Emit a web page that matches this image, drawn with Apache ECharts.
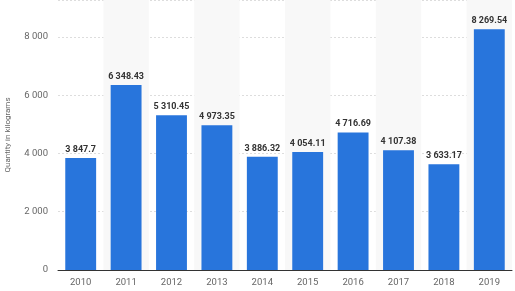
<!DOCTYPE html>
<html><head><meta charset="utf-8">
<script src="https://cdn.jsdelivr.net/npm/echarts@6/dist/echarts.min.js"></script>
<style>html,body{margin:0;padding:0;background:#fff}#c{width:515px;height:291px}</style>
</head><body><div id="c"></div>
<script>
var categories = ['2010','2011','2012','2013','2014','2015','2016','2017','2018','2019'];
var values = [3847.7, 6348.43, 5310.45, 4973.35, 3886.32, 4054.11, 4716.69, 4107.38, 3633.17, 8269.54];
var yTicks = [0, 2000, 4000, 6000, 8000];

function fmt(v){
  var s = String(v).split('.');
  var i = s[0].replace(/\B(?=(\d{3})+(?!\d))/g, ' ');
  return s.length > 1 ? i + '.' + s[1] : i;
}
var chart = echarts.init(document.getElementById('c'));
chart.setOption({
  animation: false,
  grid: {left: 58, right: 3, top: 0, bottom: 21, containLabel: false, outerBoundsMode: 'none'},
  xAxis: {
    type: 'category', data: categories,
    axisLine: {lineStyle: {color: '#333', width: 1}},
    axisTick: {show: false},
    axisLabel: {color: '#666', fontSize: 9.5, fontFamily: 'Roboto', margin: 8},
    splitArea: {show: true, areaStyle: {color: ['rgba(0,0,0,0)', '#f8f8f8']}}
  },
  yAxis: {
    type: 'value', min: 0, max: 9270, interval: 2000,
    name: 'Quantity in kilograms', nameLocation: 'middle', nameGap: 46, nameRotate: 90,
    nameTextStyle: {color: '#666', fontSize: 8, fontFamily: 'Roboto'},
    axisLine: {show: false}, axisTick: {show: false},
    axisLabel: {color: '#666', fontSize: 9.5, fontFamily: 'Roboto', margin: 10, showMaxLabel: false,
      formatter: function(v){ return yTicks.indexOf(v) >= 0 ? fmt(v) : ''; }},
    splitLine: {lineStyle: {color: '#ddd', type: [2, 2]}}
  },
  series: [{
    type: 'bar', data: values, barWidth: '68%',
    itemStyle: {color: '#2875dc'},
    label: {show: true, position: 'top', distance: 4, color: '#333', fontSize: 9, fontWeight: 'bold', fontFamily: 'Roboto',
      formatter: function(p){ return fmt(p.value); }}
  }]
});
</script></body></html>
